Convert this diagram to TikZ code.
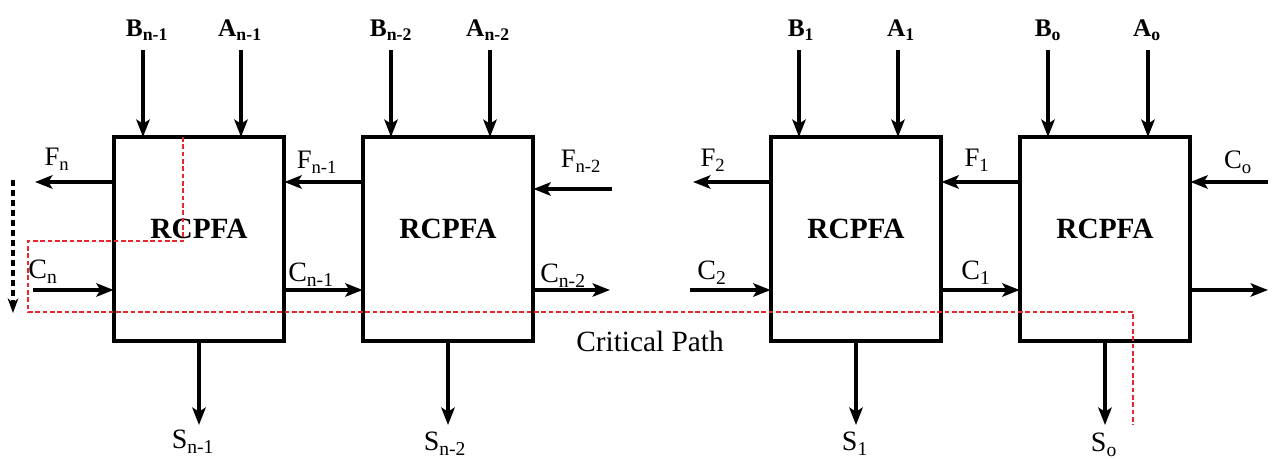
\documentclass[tikz,border=0pt]{standalone}
\usepackage{fontspec}
\setmainfont{Liberation Serif}
\usetikzlibrary{arrows.meta}
\definecolor{cpred}{RGB}{228,40,45}
\begin{document}
\begin{tikzpicture}[x=0.75pt,y=-0.75pt,
  blk/.style={draw,line width=3pt,minimum width=128pt,minimum height=153pt,inner sep=0pt,outer sep=0pt},
  arr/.style={line width=2.7pt,-{Stealth[length=13pt,width=10pt,inset=3pt]}},
  inlbl/.style={font=\fontsize{19}{22}\selectfont\bfseries,anchor=base,inner sep=0pt},
  flbl/.style={font=\fontsize{20}{23}\selectfont,anchor=base,inner sep=0pt},
  clbl/.style={font=\fontsize{21}{24}\selectfont,anchor=base,inner sep=0pt},
  rcp/.style={font=\fontsize{22}{26}\selectfont\bfseries,inner sep=0pt},
  crit/.style={draw=cpred,line width=2pt,dash pattern=on 3.5pt off 2pt},
  note/.style={font=\fontsize{22}{26}\selectfont,anchor=base,inner sep=0pt},
  dasharr/.style={line width=3.5pt,dash pattern=on 4.5pt off 3pt,-{Stealth[length=11pt,width=8pt]}}
]
\useasboundingbox (0,0) rectangle (1279,459);

% blocks
\node[blk,label={[rcp,yshift=7.5pt]center:RCPFA}] (b1) at (199,239) {};
\node[blk,label={[rcp,yshift=7.5pt]center:RCPFA}] (b2) at (448,239) {};
\node[blk,label={[rcp,yshift=7.5pt]center:RCPFA}] (b3) at (856,239) {};
\node[blk,label={[rcp,yshift=7.5pt]center:RCPFA}] (b4) at (1105,239) {};

% rows
\coordinate (rowF) at (0,182);
\coordinate (rowC) at (0,290);
\coordinate (rowS) at (0,425);

% inputs A, B
\coordinate (iB1) at (143,50);  \coordinate (iA1) at (241,50);
\coordinate (iB2) at (391,50);  \coordinate (iA2) at (490,50);
\coordinate (iB3) at (799,50);  \coordinate (iA3) at (898,50);
\coordinate (iB4) at (1048,50); \coordinate (iA4) at (1148,50);
\draw[arr] (iB1) -- (iB1 |- b1.north);
\draw[arr] (iA1) -- (iA1 |- b1.north);
\draw[arr] (iB2) -- (iB2 |- b2.north);
\draw[arr] (iA2) -- (iA2 |- b2.north);
\draw[arr] (iB3) -- (iB3 |- b3.north);
\draw[arr] (iA3) -- (iA3 |- b3.north);
\draw[arr] (iB4) -- (iB4 |- b4.north);
\draw[arr] (iA4) -- (iA4 |- b4.north);
\node[inlbl] (lB1) at (147,37) {B\textsubscript{n-1}};
\node[inlbl] (lA1) at (240,37) {A\textsubscript{n-1}};
\node[inlbl] (lB2) at (391,37) {B\textsubscript{n-2}};
\node[inlbl] (lA2) at (488,37) {A\textsubscript{n-2}};
\node[inlbl] (lB3) at (801,37) {B\textsubscript{1}};
\node[inlbl] (lA3) at (901,37) {A\textsubscript{1}};
\node[inlbl] (lB4) at (1048,37) {B\textsubscript{o}};
\node[inlbl] (lA4) at (1147,37) {A\textsubscript{o}};

% F row
\coordinate (oFn) at (35,182);
\coordinate (iFn2) at (612,189);
\coordinate (oF2) at (693,182);
\coordinate (iCo) at (1268,182);
\draw[arr] (b1.west |- oFn) -- (oFn);
\draw[arr] (b2.west |- rowF) -- (b1.east |- rowF);
\draw[arr] (iFn2) -- (b2.east |- iFn2);
\draw[arr] (b3.west |- oF2) -- (oF2);
\draw[arr] (b4.west |- rowF) -- (b3.east |- rowF);
\draw[arr] (iCo) -- (b4.east |- iCo);
\node[flbl] (lFn) at (57,166) {F\textsubscript{n}};
\node[flbl] (lFn1) at (317,169) {F\textsubscript{n-1}};
\node[flbl] (lFn2) at (581,168) {F\textsubscript{n-2}};
\node[flbl] (lF2) at (713,167) {F\textsubscript{2}};
\node[flbl] (lF1) at (977,167) {F\textsubscript{1}};
\node[flbl] (lCo) at (1238,169) {C\textsubscript{o}};

% C row
\coordinate (iCn) at (33,290);
\coordinate (oCn2) at (610,290);
\coordinate (iC2) at (690,290);
\coordinate (oCout) at (1268,290);
\draw[arr] (iCn) -- (b1.west |- iCn);
\draw[arr] (b1.east |- rowC) -- (b2.west |- rowC);
\draw[arr] (b2.east |- oCn2) -- (oCn2);
\draw[arr] (iC2) -- (b3.west |- iC2);
\draw[arr] (b3.east |- rowC) -- (b4.west |- rowC);
\draw[arr] (b4.east |- oCout) -- (oCout);
\node[clbl] (lCn) at (43,279) {C\textsubscript{n}};
\node[clbl] (lCn1) at (311,282) {C\textsubscript{n-1}};
\node[clbl] (lCn2) at (563,283) {C\textsubscript{n-2}};
\node[clbl] (lC2) at (712,280) {C\textsubscript{2}};
\node[clbl] (lC1) at (976,280) {C\textsubscript{1}};

% S outputs
\draw[arr] (b1.south) -- (b1.south |- rowS);
\draw[arr] (b2.south) -- (b2.south |- rowS);
\draw[arr] (b3.south) -- (b3.south |- rowS);
\draw[arr] (b4.south) -- (b4.south |- rowS);
\node[clbl] (lS1) at (193,449) {S\textsubscript{n-1}};
\node[clbl] (lS2) at (445,451) {S\textsubscript{n-2}};
\node[clbl] (lS3) at (855,451) {S\textsubscript{1}};
\node[clbl] (lS4) at (1104,452) {S\textsubscript{o}};

% critical path
\coordinate (cpEnd) at (1133,425);
\draw[crit] ([xshift=-12pt]b1.north) -- ++(0,104) -| (28,312) -- (cpEnd |- 0,312) -- (cpEnd);
\node[note] (lcp) at (650,352) {Critical Path};

% dashed direction arrow
\coordinate (dA) at (13,180);
\coordinate (dB) at (13,313);
\draw[dasharr] (dA) -- (dB);
\end{tikzpicture}
\end{document}
